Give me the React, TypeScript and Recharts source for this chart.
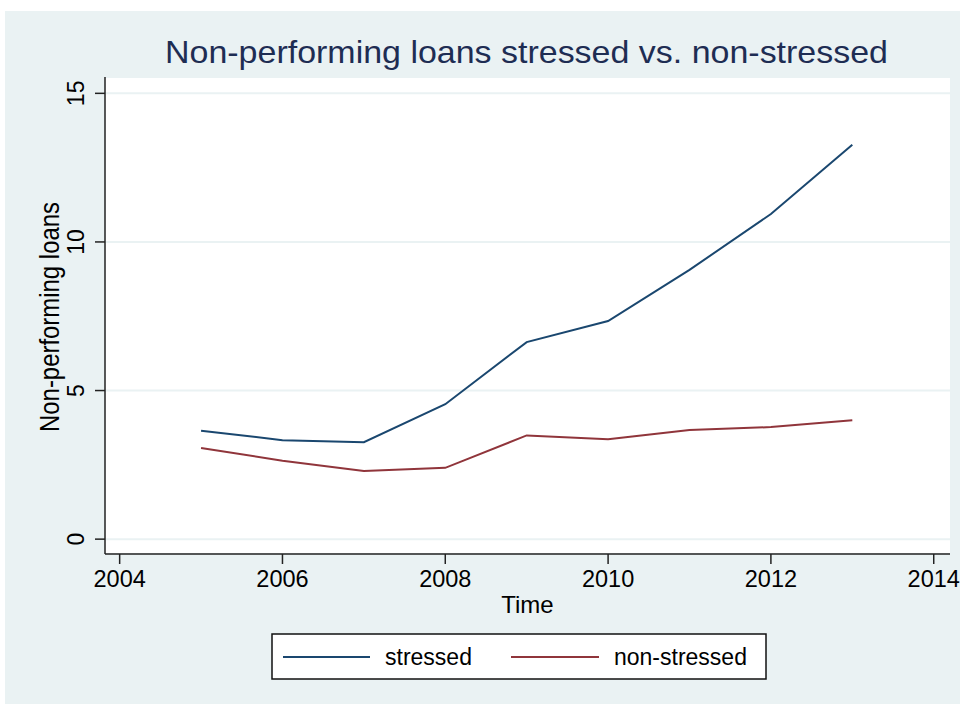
import React from 'react';
import {
  LineChart,
  Line,
  XAxis,
  YAxis,
  CartesianGrid,
} from 'recharts';

const years = [2005, 2006, 2007, 2008, 2009, 2010, 2011, 2012, 2013];
const stressed = [3.65, 3.33, 3.26, 4.54, 6.63, 7.34, 9.06, 10.94, 13.27];
const nonStressed = [3.07, 2.64, 2.29, 2.4, 3.49, 3.36, 3.67, 3.77, 4.0];
const xTicks = [2004, 2006, 2008, 2010, 2012, 2014];
const yTicks = [0, 5, 10, 15];

const data = years.map((year, i) => ({
  year,
  stressed: stressed[i],
  nonStressed: nonStressed[i],
}));

const FONT = '"Liberation Sans", Arial, Helvetica, sans-serif';
const BG = '#EAF2F3';
const NAVY = '#1A476F';
const MAROON = '#90353B';

const YTick = (props: any) => {
  const { x, y, payload } = props;
  const bx = x - 9;
  return (
    <text
      x={bx}
      y={y}
      transform={`rotate(-90 ${bx} ${y})`}
      textAnchor="middle"
      fontSize={23}
      fontFamily={FONT}
      fill="#000"
    >
      {payload.value}
    </text>
  );
};

const XTick = (props: any) => {
  const { x, y, payload } = props;
  return (
    <text x={x} y={y + 21} textAnchor="middle" fontSize={23.5} fontFamily={FONT} fill="#000">
      {payload.value}
    </text>
  );
};

// legend drawn by hand, Stata style box under the plot
const LegendBox = () => (
  <svg width={496} height={47} style={{ position: 'absolute', left: 271, top: 633 }}>
    <rect x={1} y={1} width={494} height={45} fill="#fff" stroke="#111" strokeWidth={1.5} />
    <line x1={12} x2={99} y1={24} y2={24} stroke={NAVY} strokeWidth={2} />
    <text x={114} y={32} fontSize={23} fontFamily={FONT} fill="#000">stressed</text>
    <line x1={240} x2={328} y1={24} y2={24} stroke={MAROON} strokeWidth={2} />
    <text x={343} y={32} fontSize={23} fontFamily={FONT} fill="#000">non-stressed</text>
  </svg>
);

export default function App() {
  return (
    <div
      style={{
        position: 'absolute',
        left: 0,
        top: 0,
        width: 960,
        height: 704,
        background: '#fff',
        overflow: 'hidden',
      }}
    >
      <div style={{ position: 'absolute', left: 5, top: 11, right: 0, bottom: 0, background: BG }} />
      <svg width={960} height={704} style={{ position: 'absolute', left: 0, top: 0 }}>
        <text
          x={526.5}
          y={63}
          textAnchor="middle"
          fontSize={30.5}
          fontFamily={FONT}
          fill="#1E2D53"
          textLength={723}
          lengthAdjust="spacingAndGlyphs"
        >
          Non-performing loans stressed vs. non-stressed
        </text>
        <text x={527.5} y={613} textAnchor="middle" fontSize={24} fontFamily={FONT} fill="#000">
          Time
        </text>
        <text
          x={59}
          y={317}
          transform="rotate(-90 59 317)"
          textAnchor="middle"
          fontSize={27}
          fontFamily={FONT}
          fill="#000"
          textLength={230}
          lengthAdjust="spacingAndGlyphs"
        >
          Non-performing loans
        </text>
      </svg>
      <div style={{ position: 'absolute', left: 0, top: 0 }}>
        <LineChart
          width={960}
          height={704}
          data={data}
          margin={{ top: 77, right: 10, bottom: 149, left: 104 }}
        >
          <CartesianGrid
            vertical={false}
            stroke={BG}
            strokeWidth={2}
            fill="#fff"
            fillOpacity={1}
          />
          <XAxis
            dataKey="year"
            type="number"
            domain={[2003.82, 2014.2]}
            ticks={xTicks}
            allowDataOverflow
            height={1}
            tickSize={10}
            stroke="#222"
            tickLine={{ stroke: '#222', strokeWidth: 1.5 }}
            axisLine={{ stroke: '#222', strokeWidth: 1.5 }}
            tick={<XTick />}
          />
          <YAxis
            type="number"
            domain={[-0.5, 15.55]}
            ticks={yTicks}
            allowDataOverflow
            width={1}
            tickSize={10}
            stroke="#222"
            tickLine={{ stroke: '#222', strokeWidth: 1.5 }}
            axisLine={{ stroke: '#222', strokeWidth: 1.5 }}
            tick={<YTick />}
          />
          <Line
            type="linear"
            dataKey="stressed"
            stroke={NAVY}
            strokeWidth={2}
            dot={false}
            isAnimationActive={false}
          />
          <Line
            type="linear"
            dataKey="nonStressed"
            stroke={MAROON}
            strokeWidth={2}
            dot={false}
            isAnimationActive={false}
          />
        </LineChart>
      </div>
      <LegendBox />
    </div>
  );
}
